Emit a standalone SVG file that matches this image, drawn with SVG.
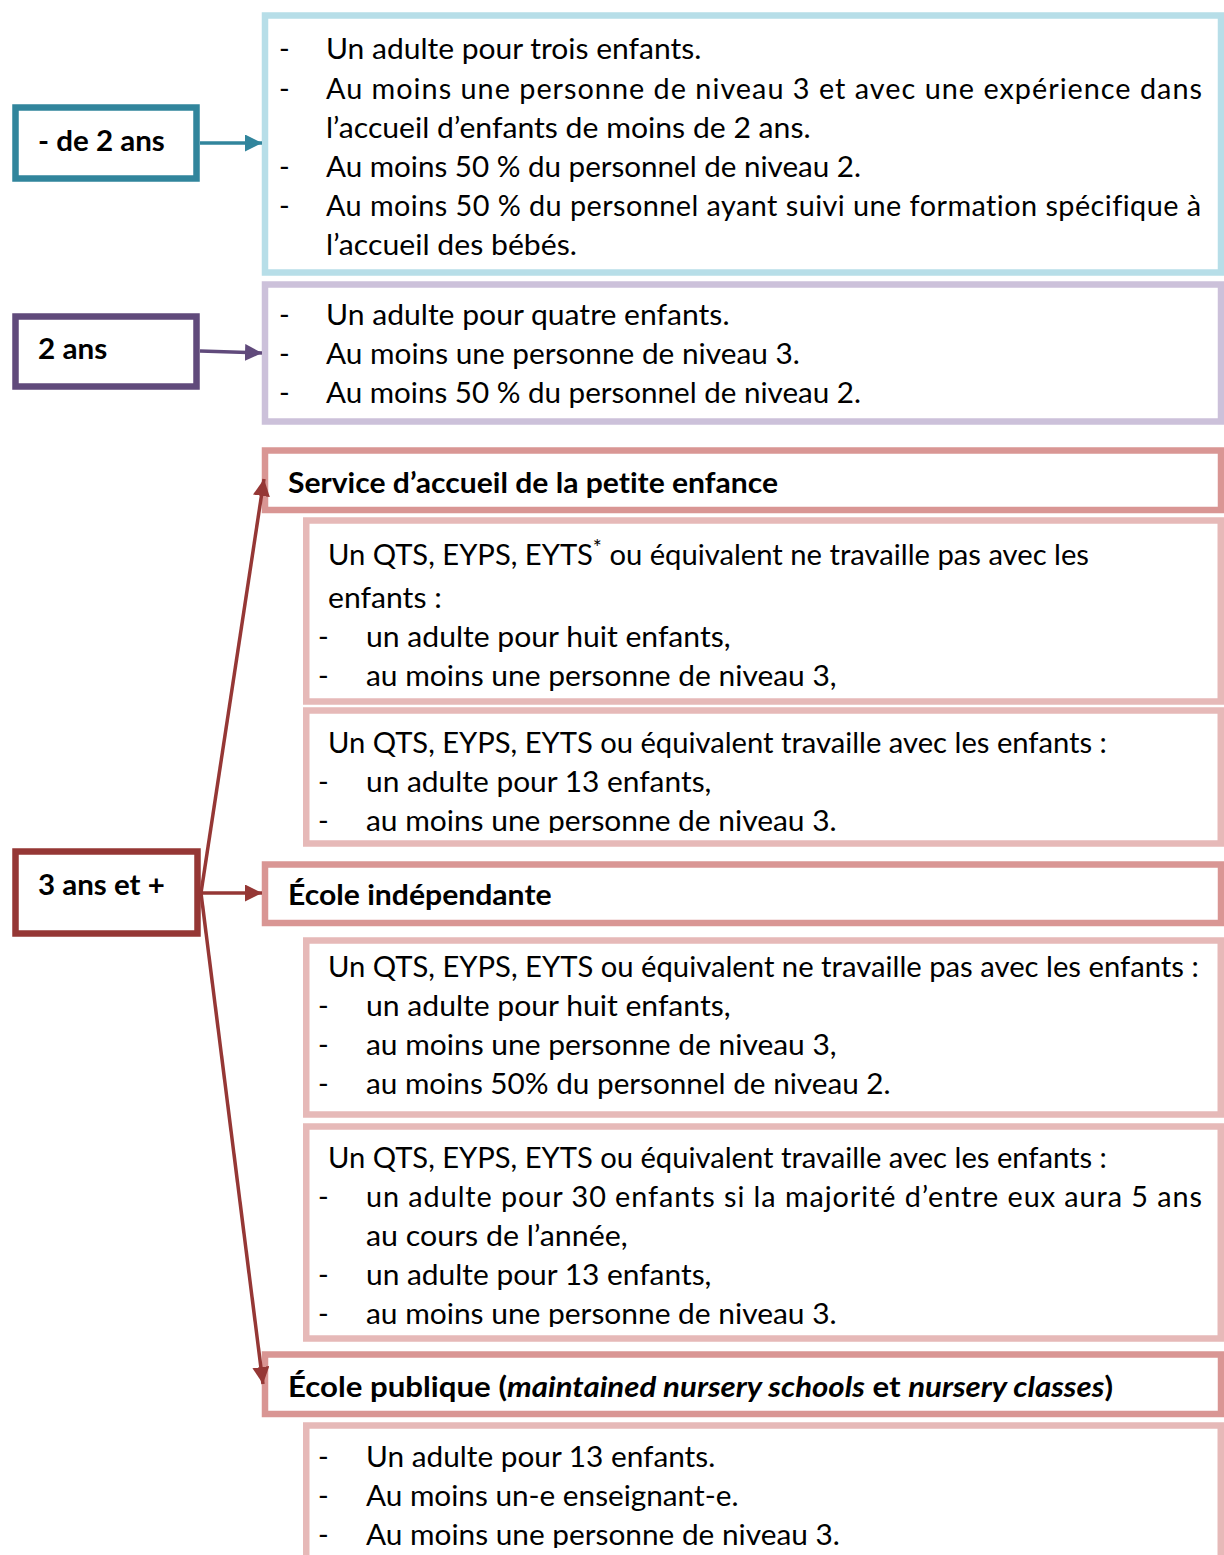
<svg xmlns="http://www.w3.org/2000/svg" width="1224" height="1555" viewBox="0 0 1224 1555">
<style>
  .t { font-family: Lato, "Open Sans", "Liberation Sans", sans-serif; font-size: 28.8px; fill: #000; font-variant-ligatures: none; }
  .b { font-weight: bold; }
  .i { font-style: italic; }
  .box { fill: #fff; stroke-width: 6.5; }
  .teal { stroke: #31859c; }
  .lblue { stroke: #b7dee8; }
  .purple { stroke: #604a7b; }
  .lpurple { stroke: #ccc1da; }
  .red { stroke: #953735; }
  .hdr { stroke: #d99694; }
  .inner { stroke: #e6b9b8; }
  .conn { fill: none; stroke-width: 3.5; }
</style>
<defs>
  <marker id="ah-teal" markerUnits="userSpaceOnUse" markerWidth="17" markerHeight="17" refX="16" refY="8" orient="auto" viewBox="0 0 16 16">
    <path d="M0,0 L16,8 L0,16 z" fill="#31859c"/>
  </marker>
  <marker id="ah-purple" markerUnits="userSpaceOnUse" markerWidth="17" markerHeight="17" refX="16" refY="8" orient="auto" viewBox="0 0 16 16">
    <path d="M0,0 L16,8 L0,16 z" fill="#604a7b"/>
  </marker>
  <marker id="ah-red" markerUnits="userSpaceOnUse" markerWidth="17" markerHeight="17" refX="16" refY="8" orient="auto" viewBox="0 0 16 16">
    <path d="M0,0 L16,8 L0,16 z" fill="#953735"/>
  </marker>
  <clipPath id="clip-in1"><rect x="306" y="520" width="915" height="172"/></clipPath>
  <clipPath id="clip-in2"><rect x="306" y="710" width="915" height="123"/></clipPath>
  <clipPath id="clip-in4"><rect x="306" y="1126" width="915" height="201"/></clipPath>
  <clipPath id="clip-in5"><rect x="306" y="1425" width="915" height="123"/></clipPath>
</defs>

<rect width="1224" height="1555" fill="#fff"/>

<!-- Hub nodes -->
<g id="node-moins2">
  <rect class="box teal" x="15.5" y="107.5" width="181" height="71"/>
  <text class="t b" x="38" y="151" textLength="126.8" lengthAdjust="spacingAndGlyphs">- de 2 ans</text>
</g>
<g id="node-2ans">
  <rect class="box purple" x="15.5" y="316.5" width="181" height="70"/>
  <text class="t b" x="38" y="359" textLength="69.2" lengthAdjust="spacingAndGlyphs">2 ans</text>
</g>
<g id="node-3ans">
  <rect class="box red" x="15.5" y="851.5" width="182" height="82"/>
  <text class="t b" x="38" y="895" textLength="126.8" lengthAdjust="spacingAndGlyphs">3 ans et +</text>
</g>

<!-- Content: under 2 -->
<g id="box-moins2">
  <rect class="box lblue" x="265" y="15.5" width="956" height="257"/>
  <text class="t" x="279" y="59">-</text>
  <text class="t" x="326" y="59" textLength="375.3" lengthAdjust="spacingAndGlyphs">Un adulte pour trois enfants.</text>
  <text class="t" x="279" y="98.5">-</text>
  <text class="t" x="326" y="98.5" textLength="876" lengthAdjust="spacing">Au moins une personne de niveau 3 et avec une expérience dans</text>
  <text class="t" x="326" y="137.5" textLength="484.6" lengthAdjust="spacingAndGlyphs">l’accueil d’enfants de moins de 2 ans.</text>
  <text class="t" x="279" y="176.5">-</text>
  <text class="t" x="326" y="176.5" textLength="535" lengthAdjust="spacingAndGlyphs">Au moins 50 % du personnel de niveau 2.</text>
  <text class="t" x="279" y="215.5">-</text>
  <text class="t" x="326" y="215.5" textLength="875" lengthAdjust="spacing">Au moins 50 % du personnel ayant suivi une formation spécifique à</text>
  <text class="t" x="326" y="254.5" textLength="250.9" lengthAdjust="spacingAndGlyphs">l’accueil des bébés.</text>
</g>

<!-- Content: 2 ans -->
<g id="box-2ans">
  <rect class="box lpurple" x="265" y="284.5" width="956" height="137"/>
  <text class="t" x="279" y="325">-</text>
  <text class="t" x="326" y="325" textLength="403.5" lengthAdjust="spacingAndGlyphs">Un adulte pour quatre enfants.</text>
  <text class="t" x="279" y="364">-</text>
  <text class="t" x="326" y="364" textLength="473.8" lengthAdjust="spacingAndGlyphs">Au moins une personne de niveau 3.</text>
  <text class="t" x="279" y="403">-</text>
  <text class="t" x="326" y="403" textLength="535" lengthAdjust="spacingAndGlyphs">Au moins 50 % du personnel de niveau 2.</text>
</g>

<!-- Service d'accueil -->
<g id="hdr-service">
  <rect class="box hdr" x="265" y="450.5" width="956" height="59.5"/>
  <text class="t b" x="288" y="493" textLength="490" lengthAdjust="spacingAndGlyphs">Service d’accueil de la petite enfance</text>
</g>
<g id="box-service-1">
  <rect class="box inner" x="306.25" y="520.5" width="914.5" height="181"/>
  <g clip-path="url(#clip-in1)">
    <text class="t" x="328" y="565" textLength="761" lengthAdjust="spacingAndGlyphs">Un QTS, EYPS, EYTS<tspan font-size="21" baseline-shift="10">*</tspan> ou équivalent ne travaille pas avec les</text>
    <text class="t" x="328" y="608" textLength="113.7" lengthAdjust="spacingAndGlyphs">enfants :</text>
    <text class="t" x="318" y="647">-</text>
    <text class="t" x="366" y="647" textLength="364.6" lengthAdjust="spacingAndGlyphs">un adulte pour huit enfants,</text>
    <text class="t" x="318" y="686">-</text>
    <text class="t" x="366" y="686" textLength="470.6" lengthAdjust="spacingAndGlyphs">au moins une personne de niveau 3,</text>
  </g>
</g>
<g id="box-service-2">
  <rect class="box inner" x="306.25" y="710.5" width="914.5" height="133"/>
  <g clip-path="url(#clip-in2)">
    <text class="t" x="328" y="753" textLength="778.9" lengthAdjust="spacingAndGlyphs">Un QTS, EYPS, EYTS ou équivalent travaille avec les enfants :</text>
    <text class="t" x="318" y="792">-</text>
    <text class="t" x="366" y="792" textLength="345.4" lengthAdjust="spacingAndGlyphs">un adulte pour 13 enfants,</text>
    <text class="t" x="318" y="831">-</text>
    <text class="t" x="366" y="831" textLength="470.6" lengthAdjust="spacingAndGlyphs">au moins une personne de niveau 3.</text>
  </g>
</g>

<!-- École indépendante -->
<g id="hdr-independante">
  <rect class="box hdr" x="265" y="864.5" width="956" height="58.5"/>
  <text class="t b" x="288" y="905" textLength="263.6" lengthAdjust="spacingAndGlyphs">École indépendante</text>
</g>
<g id="box-independante-1">
  <rect class="box inner" x="306.25" y="940.5" width="914.5" height="174"/>
  <text class="t" x="328" y="977" textLength="870.7" lengthAdjust="spacingAndGlyphs">Un QTS, EYPS, EYTS ou équivalent ne travaille pas avec les enfants :</text>
  <text class="t" x="318" y="1016">-</text>
  <text class="t" x="366" y="1016" textLength="364.6" lengthAdjust="spacingAndGlyphs">un adulte pour huit enfants,</text>
  <text class="t" x="318" y="1055">-</text>
  <text class="t" x="366" y="1055" textLength="470.6" lengthAdjust="spacingAndGlyphs">au moins une personne de niveau 3,</text>
  <text class="t" x="318" y="1094">-</text>
  <text class="t" x="366" y="1094" textLength="524.6" lengthAdjust="spacingAndGlyphs">au moins 50% du personnel de niveau 2.</text>
</g>
<g id="box-independante-2">
  <rect class="box inner" x="306.25" y="1126.5" width="914.5" height="212"/>
  <g clip-path="url(#clip-in4)">
    <text class="t" x="328" y="1168" textLength="778.9" lengthAdjust="spacingAndGlyphs">Un QTS, EYPS, EYTS ou équivalent travaille avec les enfants :</text>
    <text class="t" x="318" y="1207">-</text>
    <text class="t" x="366" y="1207" textLength="836" lengthAdjust="spacing">un adulte pour 30 enfants si la majorité d’entre eux aura 5 ans</text>
    <text class="t" x="366" y="1246" textLength="261.6" lengthAdjust="spacingAndGlyphs">au cours de l’année,</text>
    <text class="t" x="318" y="1285">-</text>
    <text class="t" x="366" y="1285" textLength="345.4" lengthAdjust="spacingAndGlyphs">un adulte pour 13 enfants,</text>
    <text class="t" x="318" y="1324">-</text>
    <text class="t" x="366" y="1324" textLength="470.6" lengthAdjust="spacingAndGlyphs">au moins une personne de niveau 3.</text>
  </g>
</g>

<!-- École publique -->
<g id="hdr-publique">
  <rect class="box hdr" x="265" y="1354.5" width="956" height="59.5"/>
  <text class="t b" x="288" y="1397" textLength="825" lengthAdjust="spacingAndGlyphs">École publique (<tspan class="i">maintained nursery schools</tspan> et <tspan class="i">nursery classes</tspan>)</text>
</g>
<g id="box-publique-1">
  <rect class="box inner" x="306.25" y="1425.5" width="914.5" height="200"/>
  <g clip-path="url(#clip-in5)">
    <text class="t" x="318" y="1467">-</text>
    <text class="t" x="366" y="1467" textLength="349.2" lengthAdjust="spacingAndGlyphs">Un adulte pour 13 enfants.</text>
    <text class="t" x="318" y="1506">-</text>
    <text class="t" x="366" y="1506" textLength="372.4" lengthAdjust="spacingAndGlyphs">Au moins un-e enseignant-e.</text>
    <text class="t" x="318" y="1545">-</text>
    <text class="t" x="366" y="1545" textLength="473.8" lengthAdjust="spacingAndGlyphs">Au moins une personne de niveau 3.</text>
  </g>
</g>

<!-- Connectors -->
<g id="connectors">
  <line class="conn" stroke="#31859c" stroke-width="4" x1="200" y1="143" x2="262" y2="143" marker-end="url(#ah-teal)"/>
  <line class="conn" stroke="#604a7b" stroke-width="4" x1="200" y1="351" x2="262" y2="353" marker-end="url(#ah-purple)"/>
  <line class="conn" stroke="#953735" x1="201" y1="893" x2="262" y2="893" marker-end="url(#ah-red)"/>
  <line class="conn" stroke="#953735" x1="201" y1="893" x2="264" y2="479" marker-end="url(#ah-red)"/>
  <line class="conn" stroke="#953735" x1="201" y1="893" x2="263" y2="1384" marker-end="url(#ah-red)"/>
</g>
</svg>
